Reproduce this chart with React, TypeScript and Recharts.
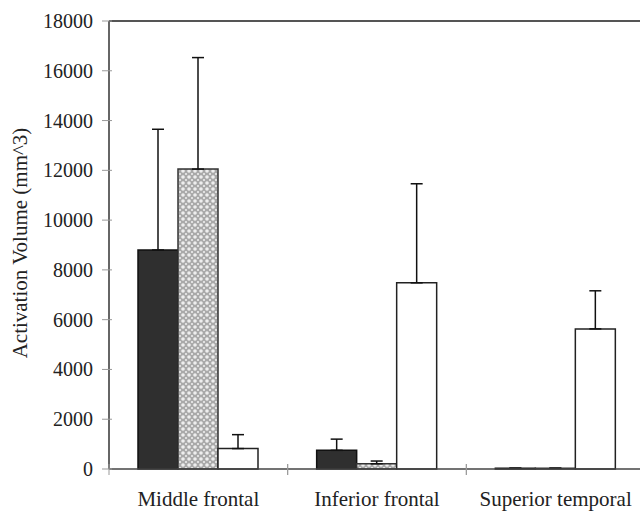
import { BarChart, Bar, XAxis, YAxis, ErrorBar, ReferenceLine } from 'recharts'

const categories = ['Middle frontal', 'Inferior frontal', 'Superior temporal']
const darkValues = [8800, 750, 30]
const darkErrors = [4850, 450, 0]
const hatchValues = [12050, 210, 30]
const hatchErrors = [4480, 110, 0]
const whiteValues = [820, 7480, 5630]
const whiteErrors = [560, 3980, 1530]
const yTicks = [0, 2000, 4000, 6000, 8000, 10000, 12000, 14000, 16000, 18000]

const FONT = '"Liberation Serif", "Times New Roman", serif'

const data = categories.map((name, i) => ({
  name,
  dark: darkValues[i],
  darkErr: [0, darkErrors[i]],
  hatch: hatchValues[i],
  hatchErr: [0, hatchErrors[i]],
  white: whiteValues[i],
  whiteErr: [0, whiteErrors[i]],
}))

function YTick({ x, y, payload }: any) {
  return (
    <g>
      <line x1={x - 7} x2={x + 3} y1={y} y2={y} stroke="#999" strokeWidth={1} />
      <text x={x - 16} y={y} dy="0.35em" textAnchor="end" fontFamily={FONT} fontSize={20} fill="#222">
        {payload.value}
      </text>
    </g>
  )
}

// category ticks sit on the band edges, labels in the band centre
function XTick({ x, y, payload }: any) {
  const half = payload.offset || 89
  return (
    <g>
      <line x1={x - half} x2={x - half} y1={y - 5} y2={y + 6} stroke="#999" strokeWidth={1} />
      <line x1={x + half} x2={x + half} y1={y - 5} y2={y + 6} stroke="#999" strokeWidth={1} />
      <text x={x} y={y + 37} textAnchor="middle" fontFamily={FONT} fontSize={21} fill="#222">
        {payload.value}
      </text>
    </g>
  )
}

export default function App() {
  return (
    <div style={{ position: 'absolute', left: 0, top: 0, width: 640, height: 513, overflow: 'hidden', background: '#fff' }}>
      <BarChart
        width={645}
        height={513}
        data={data}
        margin={{ top: 21, right: 0, bottom: 0, left: 0 }}
        barGap={0}
        barSize={40}
      >
        <defs>
          <pattern id="hatch" width="6" height="6" patternUnits="userSpaceOnUse">
            <rect width="6" height="6" fill="#a9a9a9" />
            <circle cx="3" cy="3" r="1.8" fill="#eeeeee" />
            <circle cx="0" cy="0" r="1.1" fill="#eeeeee" />
            <circle cx="6" cy="0" r="1.1" fill="#eeeeee" />
            <circle cx="0" cy="6" r="1.1" fill="#eeeeee" />
            <circle cx="6" cy="6" r="1.1" fill="#eeeeee" />
          </pattern>
        </defs>
        <XAxis
          dataKey="name"
          interval={0}
          height={44}
          tickSize={0}
          tickMargin={0}
          tickLine={false}
          tick={<XTick />}
          axisLine={{ stroke: '#444', strokeWidth: 1.5 }}
        />
        <YAxis
          domain={[0, 18000]}
          ticks={yTicks}
          interval={0}
          width={109}
          tickSize={0}
          tickMargin={0}
          tickLine={false}
          tick={<YTick />}
          axisLine={{ stroke: '#333', strokeWidth: 1.5 }}
          label={{
            content: () => (
              <text
                x={20}
                y={243}
                transform="rotate(-90, 20, 243)"
                textAnchor="middle"
                dominantBaseline="central"
                fontFamily={FONT}
                fontSize={21}
                fill="#222"
              >
                Activation Volume (mm^3)
              </text>
            ),
          }}
        />
        <ReferenceLine y={18000} stroke="#555" strokeWidth={2} />
        <Bar dataKey="dark" fill="#2f2f2f" stroke="#111" strokeWidth={1.5} isAnimationActive={false}>
          <ErrorBar dataKey="darkErr" direction="y" width={6} stroke="#111" strokeWidth={1.5} isAnimationActive={false} />
        </Bar>
        <Bar dataKey="hatch" fill="url(#hatch)" stroke="#333" strokeWidth={1.5} isAnimationActive={false}>
          <ErrorBar dataKey="hatchErr" direction="y" width={6} stroke="#111" strokeWidth={1.5} isAnimationActive={false} />
        </Bar>
        <Bar dataKey="white" fill="#fff" stroke="#222" strokeWidth={1.5} isAnimationActive={false}>
          <ErrorBar dataKey="whiteErr" direction="y" width={6} stroke="#111" strokeWidth={1.5} isAnimationActive={false} />
        </Bar>
      </BarChart>
    </div>
  )
}
